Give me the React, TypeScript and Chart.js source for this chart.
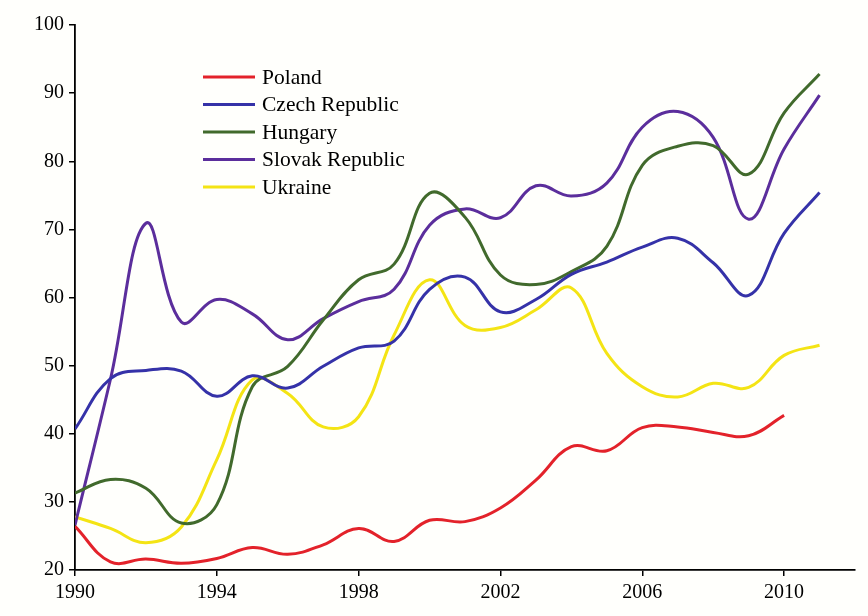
import React, { useEffect, useRef } from "react";
import { Chart, registerables } from "chart.js";

Chart.register(...registerables);

const years = [1990, 1991, 1992, 1993, 1994, 1995, 1996, 1997, 1998, 1999, 2000, 2001, 2002, 2003, 2004, 2005, 2006, 2007, 2008, 2009, 2010, 2011];

const poland = [26.4, 21.2, 21.6, 21.0, 21.7, 23.3, 22.3, 23.7, 26.1, 24.2, 27.3, 27.1, 29.1, 33.2, 38.1, 37.5, 40.9, 41.0, 40.2, 39.7, 42.7];
const czech = [40.7, 48.1, 49.3, 49.2, 45.5, 48.5, 46.7, 49.9, 52.6, 53.6, 61.2, 63.0, 57.9, 59.7, 63.4, 65.2, 67.4, 68.7, 65.1, 60.3, 69.4, 75.4];
const hungary = [31.3, 33.3, 32.0, 26.9, 29.6, 46.9, 49.9, 56.7, 62.6, 64.9, 75.3, 71.8, 63.3, 61.9, 63.8, 67.5, 79.4, 82.2, 82.3, 78.1, 87.1, 92.8];
const slovak = [26.6, 48.0, 70.9, 56.4, 59.7, 57.6, 53.8, 56.9, 59.4, 61.2, 70.6, 73.0, 71.7, 76.4, 74.9, 76.8, 85.0, 87.3, 83.5, 71.5, 81.8, 89.7];
const ukraine = [27.8, 26.1, 24.0, 26.3, 36.2, 47.9, 45.9, 41.0, 42.5, 54.5, 62.6, 55.9, 55.6, 58.2, 61.4, 51.8, 46.9, 45.4, 47.4, 46.8, 51.5, 53.0];

const seriesNames = ["Poland", "Czech Republic", "Hungary", "Slovak Republic", "Ukraine"];
const seriesColors = ["#e3222a", "#3532a8", "#416a2c", "#5b2e9c", "#f4e414"];
const seriesValues = [poland, czech, hungary, slovak, ukraine];

const xTicks = [1990, 1994, 1998, 2002, 2006, 2010];
const yTicks = [20, 30, 40, 50, 60, 70, 80, 90, 100];

const FONT = "'Liberation Serif', 'Times New Roman', serif";

const legendPlugin = {
  id: "insideLegend",
  afterDraw(chart: any) {
    const ctx = chart.ctx;
    const area = chart.chartArea;
    const x0 = area.left + 128;
    const x1 = area.left + 180;
    const tx = area.left + 187;
    const y0 = area.top + 52;
    const step = 27.5;
    ctx.save();
    ctx.font = `21.5px ${FONT}`;
    ctx.textBaseline = "middle";
    ctx.textAlign = "left";
    seriesNames.forEach((name, i) => {
      const y = y0 + i * step;
      ctx.strokeStyle = seriesColors[i];
      ctx.lineWidth = 3;
      ctx.beginPath();
      ctx.moveTo(x0, y);
      ctx.lineTo(x1, y);
      ctx.stroke();
      ctx.fillStyle = "#000";
      ctx.fillText(name, tx, y + 1);
    });
    ctx.restore();
  },
};

export default function App() {
  const ref = useRef<HTMLCanvasElement | null>(null);

  useEffect(() => {
    if (!ref.current) return;
    const datasets = seriesValues.map((vals, i) => ({
      label: seriesNames[i],
      data: vals.map((v, j) => ({ x: years[j], y: v })),
      borderColor: seriesColors[i],
      backgroundColor: seriesColors[i],
      borderWidth: 3,
      pointRadius: 0,
      tension: 0.4,
      fill: false,
    }));
    const chart = new Chart(ref.current, {
      type: "line",
      data: { datasets },
      plugins: [legendPlugin],
      options: {
        animation: false,
        responsive: true,
        maintainAspectRatio: false,
        layout: { padding: { top: 25, right: 13, left: 0, bottom: 0 } },
        plugins: {
          legend: { display: false },
          tooltip: { enabled: false },
        },
        scales: {
          x: {
            type: "linear",
            min: 1990,
            max: 2012,
            afterBuildTicks: (scale: any) => {
              scale.ticks = xTicks.map((v) => ({ value: v }));
            },
            afterFit: (scale: any) => {
              scale.height = 46;
            },
            grid: {
              drawOnChartArea: false,
              drawTicks: true,
              tickLength: 6,
              color: "#000",
              lineWidth: 1.5,
            },
            border: { display: true, color: "#000", width: 1.8 },
            ticks: {
              color: "#000",
              font: { family: FONT, size: 20 },
              padding: 5,
              maxRotation: 0,
              callback: (v: any) => String(v),
            },
          },
          y: {
            type: "linear",
            min: 20,
            max: 100,
            afterBuildTicks: (scale: any) => {
              scale.ticks = yTicks.map((v) => ({ value: v }));
            },
            afterFit: (scale: any) => {
              scale.width = 75;
            },
            grid: {
              drawOnChartArea: false,
              drawTicks: true,
              tickLength: 6,
              color: "#000",
              lineWidth: 1.5,
            },
            border: { display: true, color: "#000", width: 1.8 },
            ticks: {
              color: "#000",
              font: { family: FONT, size: 20 },
              padding: 5,
            },
          },
        },
      },
    });
    return () => chart.destroy();
  }, []);

  return (
    <div style={{ position: "fixed", left: 0, top: 0, width: 868, height: 616, background: "#fffffc" }}>
      <canvas ref={ref} />
    </div>
  );
}
